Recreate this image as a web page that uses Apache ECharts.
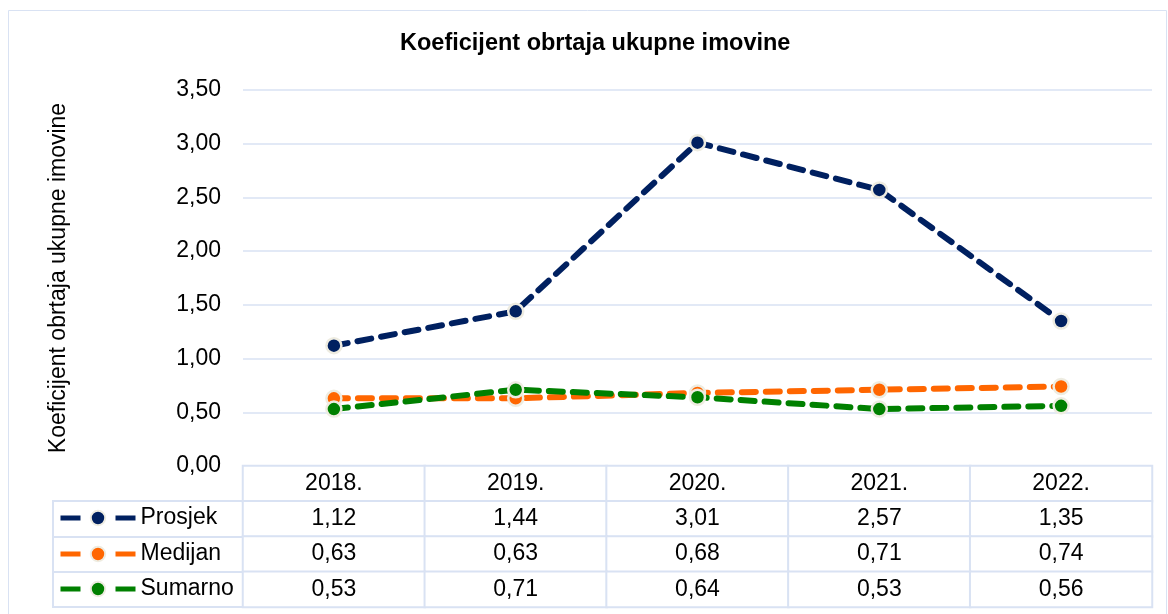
<!DOCTYPE html>
<html>
<head>
<meta charset="utf-8">
<title>Koeficijent obrtaja ukupne imovine</title>
<script src="https://cdn.jsdelivr.net/npm/echarts@6/dist/echarts.min.js"></script>
<style>
  html, body { margin: 0; padding: 0; background: #fff; }
  #chart { width: 1168px; height: 614px; }
</style>
</head>
<body>
<div id="chart"></div>
<script>
// podaci
const years = ['2018.', '2019.', '2020.', '2021.', '2022.']
const prosjek = [1.12, 1.44, 3.01, 2.57, 1.35]
const medijan = [0.63, 0.63, 0.68, 0.71, 0.74]
const sumarno = [0.53, 0.71, 0.64, 0.53, 0.56]
const seriesNames = ['Prosjek', 'Medijan', 'Sumarno']
const colors = ['#002060', '#ff6600', '#008000']
const yMin = 0
const yMax = 3.5
const yStep = 0.5

const fontFamily = '"Liberation Sans", Arial, sans-serif'
const fontSize = 23
const borderBlue = '#d9e2f3'
const fmt = v => v.toFixed(2).replace('.', ',')

const chart = echarts.init(document.getElementById('chart'))

// tablica ispod grafa: zaglavlje (godine) + redovi vrijednosti
const seriesValues = [prosjek, medijan, sumarno]
const tableData = []
years.forEach((y, xi) => {
  tableData.push({ value: [xi, 0, 0], text: y })
})
seriesValues.forEach((arr, si) => {
  arr.forEach((v, xi) => {
    tableData.push({ value: [xi, si + 1, v], text: fmt(v) })
  })
})

const lineSeries = seriesNames.map((name, i) => ({
  name: name,
  type: 'line',
  xAxisIndex: 0,
  yAxisIndex: 0,
  data: seriesValues[i],
  symbol: 'circle',
  symbolSize: 15,
  showSymbol: true,
  lineStyle: {
    width: 6,
    color: colors[i],
    type: [14, 10],
    cap: 'round'
  },
  itemStyle: {
    color: colors[i],
    borderColor: '#eeece1',
    borderWidth: 2.5
  },
  emphasis: { disabled: true },
  z: 3 + i
}))

// jedna legenda po retku tablice
const rowCenters = [518, 554, 589]
const legends = seriesNames.map((name, i) => ({
  data: [name],
  left: 58,
  top: rowCenters[i] - 12,
  padding: 0,
  itemWidth: 75,
  itemHeight: 18,
  selectedMode: false,
  lineStyle: { width: 5, type: [20, 35, 20], cap: 'butt' },
  textStyle: { fontSize: fontSize, lineHeight: 24, color: '#000', fontFamily: fontFamily }
}))

const option = {
  animation: false,
  backgroundColor: '#fff',
  textStyle: { fontFamily: fontFamily },
  title: {
    text: 'Koeficijent obrtaja ukupne imovine',
    left: 400,
    top: 32,
    padding: 0,
    textStyle: { fontSize: 23.5, fontWeight: 'bold', color: '#000', fontFamily: fontFamily }
  },
  legend: legends,
  grid: [
    { left: 243, right: 16, top: 90, bottom: 148 },
    { left: 243, right: 16, top: 466, height: 141 },
    {
      left: 53, width: 190, top: 501, height: 106,
      show: true, borderColor: borderBlue, borderWidth: 2, backgroundColor: '#fff'
    }
  ],
  xAxis: [
    {
      gridIndex: 0,
      type: 'category',
      data: years,
      boundaryGap: true,
      axisLine: { show: false },
      axisTick: { show: false },
      axisLabel: { show: false }
    },
    {
      gridIndex: 1,
      type: 'category',
      data: years,
      show: false
    },
    {
      gridIndex: 2,
      type: 'value',
      show: false
    }
  ],
  yAxis: [
    {
      gridIndex: 0,
      type: 'value',
      min: yMin,
      max: yMax,
      interval: yStep,
      name: 'Koeficijent obrtaja ukupne imovine',
      nameLocation: 'middle',
      nameRotate: 90,
      nameGap: 173,
      nameTextStyle: { fontSize: fontSize, color: '#000', fontFamily: fontFamily },
      axisLine: { show: false },
      axisTick: { show: false },
      axisLabel: {
        fontSize: fontSize,
        color: '#000',
        margin: 22,
        formatter: v => fmt(v)
      },
      splitLine: { lineStyle: { color: borderBlue, width: 1.5 } }
    },
    {
      gridIndex: 1,
      type: 'category',
      data: ['', ...seriesNames],
      inverse: true,
      show: false
    },
    {
      gridIndex: 2,
      type: 'category',
      data: seriesNames,
      inverse: true,
      axisLine: { show: false },
      axisTick: { show: false },
      axisLabel: { show: false },
      splitLine: { show: true, lineStyle: { color: borderBlue, width: 2 } }
    }
  ],
  series: [
    ...lineSeries,
    {
      name: 'tablica',
      type: 'heatmap',
      xAxisIndex: 1,
      yAxisIndex: 1,
      data: tableData,
      itemStyle: { color: '#fff', borderColor: borderBlue, borderWidth: 2 },
      label: {
        show: true,
        fontSize: fontSize,
        color: '#000',
        fontFamily: fontFamily,
        formatter: p => p.data.text
      },
      emphasis: { disabled: true },
      silent: true
    }
  ],
  graphic: [
    {
      type: 'rect',
      shape: { x: 8.5, y: 10.5, width: 1158, height: 640 },
      style: { fill: 'none', stroke: borderBlue, lineWidth: 1 },
      silent: true,
      z: -1
    }
  ]
}

chart.setOption(option)

window.addEventListener('resize', () => {
  chart && chart.resize()
})
</script>
</body>
</html>
